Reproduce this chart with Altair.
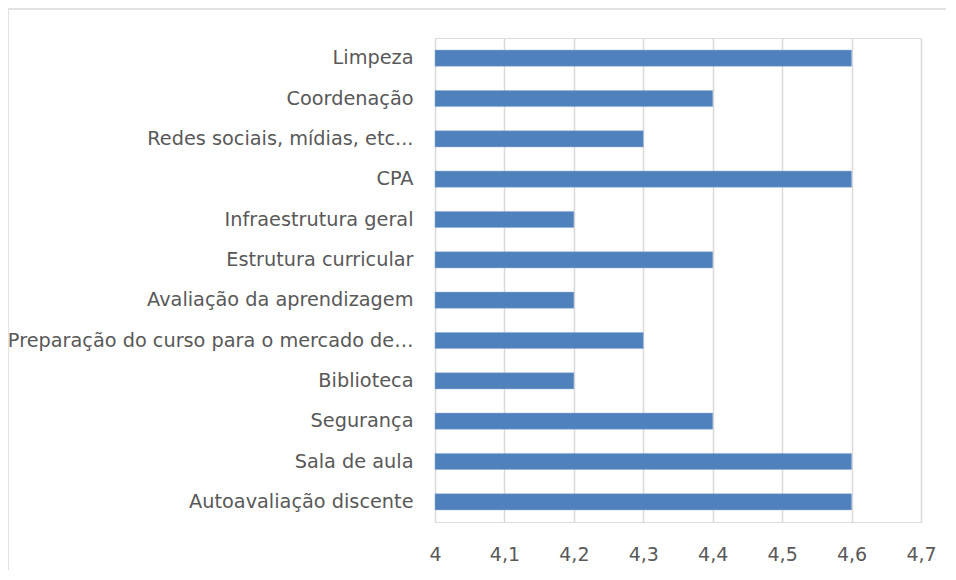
import altair as alt
import pandas as pd

categories = [
    "Limpeza",
    "Coordenação",
    "Redes sociais, mídias, etc...",
    "CPA",
    "Infraestrutura geral",
    "Estrutura curricular",
    "Avaliação da aprendizagem",
    "Preparação do curso para o mercado de…",
    "Biblioteca",
    "Segurança",
    "Sala de aula",
    "Autoavaliação discente",
]
values = [4.6, 4.4, 4.3, 4.6, 4.2, 4.4, 4.2, 4.3, 4.2, 4.4, 4.6, 4.6]
x_ticks = [4.0, 4.1, 4.2, 4.3, 4.4, 4.5, 4.6, 4.7]

df = pd.DataFrame({"cat": categories, "val": values})

FONT = "DejaVu Sans"
LABEL = "#595959"

bars = alt.Chart(df).mark_bar(color="#4F81BD", stroke="#8EACD6", strokeWidth=0.5).encode(
    y=alt.Y(
        "cat:N",
        sort=categories,
        title=None,
        scale=alt.Scale(paddingInner=0.6, paddingOuter=0.3),
        axis=alt.Axis(
            domain=False,
            ticks=False,
            grid=False,
            labelFont=FONT,
            labelFontSize=19.3,
            labelColor=LABEL,
            labelPadding=22,
            labelLimit=440,
        ),
    ),
    x=alt.X(
        "val:Q",
        title=None,
        scale=alt.Scale(domain=[4.0, 4.7], zero=False, nice=False),
        axis=alt.Axis(
            values=x_ticks,
            domain=False,
            ticks=False,
            grid=True,
            gridColor="#D9D9D9",
            gridWidth=1.5,
            labelFont=FONT,
            labelFontSize=19,
            labelColor=LABEL,
            labelPadding=23,
            labelFlush=False,
            labelExpr="replace(format(datum.value, '.2~f'), '.', ',')",
        ),
    ),
    x2=alt.datum(4.0),
)

border = alt.Chart(alt.Data(values=[{}])).mark_rect(
    fill=None, stroke="#D9D9D9", strokeWidth=1.5
).encode(
    x=alt.value(-427),
    x2=alt.value(560),
    y=alt.value(-29),
    y2=alt.value(600),
)

chart = alt.layer(border, bars).properties(
    width=486,
    height=484,
    autosize=alt.AutoSizeParams(type="none"),
    padding={"left": 427, "top": 30, "right": 25, "bottom": 48},
).configure_view(stroke=None).configure(background="white")

chart.save("out.html", embed_options={"renderer": "svg", "actions": False})
